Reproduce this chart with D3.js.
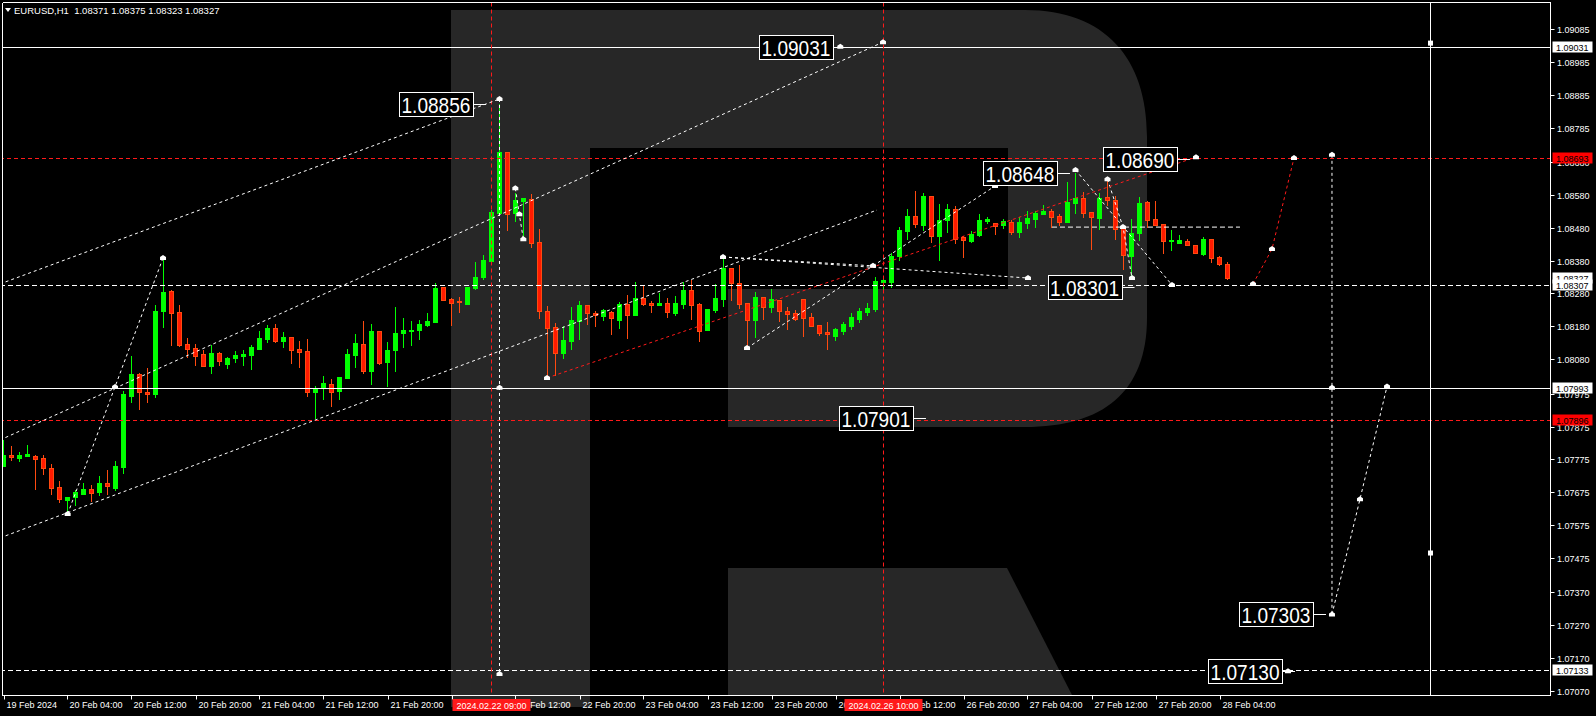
<!DOCTYPE html>
<html><head><meta charset="utf-8">
<script src="https://cdn.jsdelivr.net/npm/d3@7"></script>
<style>html,body{margin:0;padding:0;background:#000;overflow:hidden}</style>
</head><body>
<svg id="c" width="1596" height="716"></svg>
<script>
// ---------------- DATA ----------------
const header = "EURUSD,H1  1.08371 1.08375 1.08323 1.08327";
// EURUSD H1 candles, 19 Feb 20:00 .. 28 Feb 05:00 (bar index 0..153)
const opens = [1.07755,1.07788,1.07779,1.07786,1.07786,1.07778,1.07749,1.07690,1.07652,1.07661,1.07670,1.07685,1.07674,1.07702,1.07689,1.07752,1.07969,1.08034,1.07981,1.07975,
1.08228,1.08288,1.08224,1.08126,1.08114,1.08096,1.08060,1.08098,1.08066,1.08084,1.08090,1.08093,1.08112,1.08142,1.08175,1.08135,1.08148,1.08111,1.08105,1.07980,
1.07996,1.08005,1.07983,1.08023,1.08093,1.08126,1.08044,1.08166,1.08070,1.08108,1.08160,1.08167,1.08169,1.08184,1.08194,1.08300,1.08263,1.08256,1.08248,1.08298,
1.08330,1.08379,1.08525,1.08711,1.08524,1.08563,1.08568,1.08437,1.08227,1.08177,1.08097,1.08136,1.08196,1.08244,1.08220,1.08213,1.08223,1.08200,1.08248,1.08213,
1.08266,1.08251,1.08246,1.08250,1.08222,1.08249,1.08291,1.08248,1.08167,1.08230,1.08263,1.08358,1.08312,1.08251,1.08200,1.08269,1.08240,1.08260,1.08227,1.08221,
1.08263,1.08208,1.08184,1.08163,1.08152,1.08165,1.08179,1.08202,1.08224,1.08233,1.08315,1.08315,1.08394,1.08471,1.08516,1.08489,1.08577,1.08456,1.08504,1.08537,
1.08451,1.08441,1.08459,1.08502,1.08494,1.08489,1.08498,1.08468,1.08496,1.08507,1.08523,1.08531,1.08515,1.08496,1.08556,1.08570,1.08527,1.08511,1.08573,1.08564,
1.08481,1.08395,1.08464,1.08557,1.08506,1.08491,1.08441,1.08434,1.08440,1.08427,1.08402,1.08446,1.08391,1.08371];
const highs = [1.07834,1.07816,1.07796,1.07819,1.07789,1.07789,1.07761,1.07709,1.07662,1.07682,1.07702,1.07696,1.07724,1.07743,1.07770,1.07983,1.08090,1.08037,1.08054,1.08245,
1.08387,1.08291,1.08245,1.08144,1.08126,1.08108,1.08123,1.08103,1.08088,1.08105,1.08108,1.08123,1.08165,1.08184,1.08187,1.08163,1.08148,1.08135,1.08142,1.07999,
1.08029,1.08020,1.08026,1.08111,1.08157,1.08196,1.08187,1.08166,1.08132,1.08239,1.08205,1.08196,1.08199,1.08220,1.08311,1.08300,1.08266,1.08270,1.08299,1.08376,
1.08397,1.08534,1.08856,1.08711,1.08586,1.08571,1.08582,1.08476,1.08242,1.08190,1.08180,1.08239,1.08258,1.08244,1.08226,1.08234,1.08226,1.08255,1.08275,1.08315,
1.08303,1.08258,1.08282,1.08266,1.08272,1.08314,1.08321,1.08251,1.08232,1.08309,1.08392,1.08358,1.08367,1.08251,1.08285,1.08269,1.08293,1.08260,1.08239,1.08230,
1.08263,1.08221,1.08184,1.08193,1.08175,1.08193,1.08221,1.08237,1.08251,1.08331,1.08333,1.08402,1.08482,1.08536,1.08592,1.08586,1.08577,1.08552,1.08552,1.08546,
1.08456,1.08470,1.08522,1.08513,1.08496,1.08507,1.08504,1.08513,1.08531,1.08531,1.08548,1.08538,1.08522,1.08620,1.08648,1.08588,1.08527,1.08585,1.08627,1.08577,
1.08488,1.08507,1.08573,1.08560,1.08560,1.08491,1.08473,1.08458,1.08447,1.08427,1.08453,1.08446,1.08394,1.08375];
const lows = [1.07752,1.07773,1.07768,1.07784,1.07682,1.07728,1.07667,1.07643,1.07609,1.07636,1.07667,1.07646,1.07664,1.07667,1.07680,1.07732,1.07948,1.07928,1.07948,1.07963,
1.08176,1.08123,1.08118,1.08086,1.08062,1.08057,1.08036,1.08060,1.08051,1.08069,1.08060,1.08048,1.08112,1.08130,1.08130,1.08117,1.08068,1.08056,1.07966,1.07898,
1.07956,1.07935,1.07956,1.08023,1.08056,1.08035,1.08002,1.08063,1.07996,1.08044,1.08117,1.08123,1.08139,1.08179,1.08194,1.08258,1.08184,1.08223,1.08245,1.08291,
1.08324,1.08379,1.08525,1.08473,1.08498,1.08453,1.08419,1.08205,1.08022,1.08030,1.08082,1.08109,1.08139,1.08186,1.08179,1.08199,1.08155,1.08172,1.08142,1.08213,
1.08242,1.08221,1.08242,1.08206,1.08213,1.08233,1.08202,1.08133,1.08167,1.08223,1.08240,1.08260,1.08233,1.08113,1.08145,1.08202,1.08221,1.08194,1.08169,1.08197,
1.08149,1.08179,1.08151,1.08110,1.08137,1.08155,1.08169,1.08193,1.08213,1.08224,1.08291,1.08298,1.08380,1.08443,1.08480,1.08473,1.08435,1.08380,1.08465,1.08432,
1.08389,1.08435,1.08453,1.08492,1.08459,1.08477,1.08459,1.08449,1.08477,1.08480,1.08521,1.08480,1.08486,1.08496,1.08523,1.08511,1.08415,1.08475,1.08547,1.08445,
1.08354,1.08330,1.08440,1.08481,1.08486,1.08402,1.08412,1.08434,1.08427,1.08404,1.08397,1.08374,1.08365,1.08323];
const closes = [1.07789,1.07781,1.07789,1.07792,1.07777,1.07747,1.07689,1.07652,1.07662,1.07675,1.07685,1.07674,1.07702,1.07692,1.07755,1.07974,1.08035,1.07978,1.07975,1.08228,
1.08286,1.08222,1.08123,1.08111,1.08091,1.08059,1.08099,1.08075,1.08084,1.08093,1.08096,1.08117,1.08144,1.08175,1.08136,1.08148,1.08109,1.08103,1.07981,1.07992,
1.08008,1.07980,1.08026,1.08096,1.08130,1.08044,1.08166,1.08070,1.08108,1.08160,1.08169,1.08170,1.08188,1.08196,1.08297,1.08261,1.08252,1.08253,1.08299,1.08330,
1.08381,1.08528,1.08711,1.08523,1.08565,1.08571,1.08435,1.08226,1.08176,1.08097,1.08138,1.08199,1.08244,1.08220,1.08213,1.08230,1.08206,1.08248,1.08213,1.08266,
1.08249,1.08246,1.08251,1.08223,1.08251,1.08291,1.08246,1.08167,1.08232,1.08266,1.08358,1.08312,1.08249,1.08200,1.08269,1.08240,1.08263,1.08225,1.08219,1.08203,
1.08206,1.08182,1.08160,1.08157,1.08173,1.08187,1.08207,1.08227,1.08237,1.08318,1.08320,1.08394,1.08473,1.08516,1.08492,1.08577,1.08456,1.08504,1.08537,1.08447,
1.08442,1.08461,1.08504,1.08507,1.08486,1.08501,1.08468,1.08498,1.08510,1.08526,1.08532,1.08514,1.08496,1.08558,1.08570,1.08524,1.08511,1.08571,1.08563,1.08475,
1.08395,1.08464,1.08555,1.08501,1.08489,1.08438,1.08443,1.08444,1.08429,1.08404,1.08447,1.08389,1.08371,1.08327];

const timeTickIdx = [0,8,16,24,32,40,48,56,64,72,80,88,96,104,112,120,128,136,144,152];
const timeTickLabels = ["19 Feb 2024","20 Feb 04:00","20 Feb 12:00","20 Feb 20:00","21 Feb 04:00","21 Feb 12:00","21 Feb 20:00","22 Feb 04:00","22 Feb 12:00","22 Feb 20:00",
"23 Feb 04:00","23 Feb 12:00","23 Feb 20:00","26 Feb 04:00","26 Feb 12:00","26 Feb 20:00","27 Feb 04:00","27 Feb 12:00","27 Feb 20:00","28 Feb 04:00"];
const priceTicks = [1.09085,1.08985,1.08885,1.08785,1.08680,1.08580,1.08480,1.08380,1.08280,1.08180,1.08080,1.07975,1.07875,1.07775,1.07675,1.07575,1.07475,1.07370,1.07270,1.07170,1.07070];

// horizontal levels
const levelSolid = [1.09031, 1.07993];
const levelRed = [1.08693, 1.07896];
const levelDashed = [1.08307, 1.07133];
// vertical cursor lines (bar index) and their time labels
const vRedIdx = [61, 110];
const vRedLabels = ["2024.02.22 09:00", "2024.02.26 10:00"];
const vWhiteIdx = 178.3;
const vWhiteSquares = [1.09042, 1.07490];
// right-axis price tags
const tagPrices = [1.09031, 1.08693, 1.08327, 1.08307, 1.07993, 1.07896, 1.07133];
const tagRed = [false, true, false, false, false, true, false];

// analysis drawings: [bar index, price]
const channelUpper = [[-0.44,1.08309],[62,1.08872]];
const channelMiddle = [[-0.44,1.07834],[109.94,1.09045]];
const channelLower = [[-0.44,1.07536],[109.19,1.08534]];
const waveLeft = [[8.02,1.07609],[19.94,1.08388]];
const waveSpike = [[62,1.08872],[62,1.07122]];
const waveSmall = [[63.98,1.08600],[64.48,1.08521],[64.98,1.08445]];
const lineFrom90a = [[89.94,1.08391],[128.06,1.08327]];
const lineFrom90b = [[89.94,1.08391],[108.69,1.08364]];
const lineFrom93 = [[92.94,1.08114],[108.69,1.08364]];
const lineTo648 = [[108.69,1.08364],[123.94,1.08607]];
const lineA = [[134.0,1.08656],[146.06,1.08306]];
const lineB = [[138.0,1.08628],[139.94,1.08482],[141.06,1.08327]];
const lineFlat = [[131.06,1.08482],[154.56,1.08482]];
const redTrend = [[67.94,1.08023],[149.06,1.08695]];
const redForecast = [[156.19,1.08309],[158.56,1.08415],[161.31,1.08692]];
const forecastDrop = [[166.06,1.08702],[166.06,1.07303]];
const forecastRise = [[166.06,1.07303],[169.56,1.07654],[172.94,1.07997]];
const markers = [[8.02,1.07609],[13.94,1.07995],[19.94,1.08388],[62,1.08872],[62,1.07993],[62,1.07122],
[63.98,1.08600],[64.48,1.08521],[64.98,1.08445],[67.94,1.08023],[109.94,1.09045],[89.94,1.08391],[92.94,1.08114],
[108.69,1.08364],[123.94,1.08607],[128.06,1.08327],[134,1.08656],[138,1.08628],[139.94,1.08482],[141.06,1.08327],
[146.06,1.08306],[149.06,1.08695],[156.19,1.08309],[158.56,1.08415],[161.31,1.08692],[166.06,1.08702],[166.06,1.07993],
[166.06,1.07303],[169.56,1.07654],[172.94,1.07997],[160.56,1.07130],[104.6,1.09031]];
// boxed price labels
const boxTexts = ["1.08856","1.09031","1.08648","1.08690","1.08301","1.07901","1.07303","1.07130"];
const boxIdx = [54.06,99.06,127.06,142.06,135.13,109.06,159.06,155.19];
const boxPrice = [1.08856,1.09031,1.08648,1.08690,1.08301,1.07901,1.07303,1.07130];

// ---------------- DRAW ----------------
const W = 1596, H = 716;
const plotL = 2.5, plotR = 1550.5, plotT = 2.5, plotB = 695.5;
const x = d3.scaleLinear().domain([0, 152]).range([3.5, 1219.5]);
const y = d3.scaleLinear().domain([1.09085, 1.07070]).range([29, 691]);
const FONT = "'Liberation Sans', Arial, sans-serif";
const BULL = "#00ff00", BEAR_FILL = "#ff1a00", BEAR_LINE = "#ff4a10";

const svg = d3.select("#c");
svg.append("rect").attr("width", W).attr("height", H).attr("fill", "#000");

// background logo
const logo = svg.append("g").attr("fill", "#272727");
logo.append("path").attr("d",
  "M451,10 H1025 C1105,10 1147,58 1147,137 V318 C1147,392 1103,427 1025,427 H728 V289 H1008 V148 H590 V707 H451 Z");
logo.append("path").attr("d", "M728,568 H1007 L1072,695 H728 Z");

svg.append("defs").append("clipPath").attr("id", "plot")
  .append("rect").attr("x", plotL).attr("y", plotT).attr("width", plotR - plotL).attr("height", plotB - plotT);
const plot = svg.append("g").attr("clip-path", "url(#plot)");

// candles
const candles = opens.map((o, i) => ({i, o, h: highs[i], l: lows[i], c: closes[i]}));
const cg = plot.append("g").attr("shape-rendering", "crispEdges");
cg.selectAll("line.w").data(candles).join("line")
  .attr("x1", d => x(d.i)).attr("x2", d => x(d.i))
  .attr("y1", d => y(d.h)).attr("y2", d => y(d.l) + 0.5)
  .attr("stroke", d => d.c >= d.o ? BULL : BEAR_LINE).attr("stroke-width", 1);
cg.selectAll("rect.b").data(candles).join("rect")
  .attr("x", d => x(d.i) - 2).attr("width", 4)
  .attr("y", d => Math.round(y(Math.max(d.o, d.c))) + 0.5)
  .attr("height", d => Math.max(0.01, Math.round(Math.abs(y(d.o) - y(d.c)))))
  .attr("fill", d => d.c >= d.o ? BULL : BEAR_FILL)
  .attr("stroke", d => d.c >= d.o ? BULL : BEAR_LINE).attr("stroke-width", 1);

// level lines
const lv = plot.append("g");
levelSolid.forEach(p => lv.append("line").attr("x1", 0).attr("x2", plotR).attr("y1", Math.round(y(p)) + 0.5).attr("y2", Math.round(y(p)) + 0.5).attr("stroke", "#fff"));
levelRed.forEach(p => lv.append("line").attr("x1", 0).attr("x2", plotR).attr("y1", Math.round(y(p)) + 0.5).attr("y2", Math.round(y(p)) + 0.5).attr("stroke", "#ff1a1a").attr("stroke-dasharray", "4,3"));
levelDashed.forEach(p => lv.append("line").attr("x1", 0).attr("x2", plotR).attr("y1", Math.round(y(p)) + 0.5).attr("y2", Math.round(y(p)) + 0.5).attr("stroke", "#fff").attr("stroke-dasharray", "5,3"));
vRedIdx.forEach(i => lv.append("line").attr("x1", x(i)).attr("x2", x(i)).attr("y1", plotT).attr("y2", plotB).attr("stroke", "#ff1a1a").attr("stroke-dasharray", "4,3"));
lv.append("line").attr("x1", Math.round(x(vWhiteIdx)) + 0.5).attr("x2", Math.round(x(vWhiteIdx)) + 0.5).attr("y1", plotT).attr("y2", plotB).attr("stroke", "#fff");
vWhiteSquares.forEach(p => lv.append("rect").attr("x", Math.round(x(vWhiteIdx)) - 2).attr("y", y(p) - 2.5).attr("width", 5).attr("height", 5).attr("fill", "#fff"));

// drawings
const line = d3.line().x(d => x(d[0])).y(d => y(d[1]));
const dg = plot.append("g").attr("fill", "none");
[channelUpper, channelMiddle, channelLower, waveLeft, waveSpike, waveSmall, lineFrom90a, lineFrom90b,
 lineFrom93, lineTo648, lineA, lineB, forecastDrop, forecastRise]
  .forEach(pts => dg.append("path").attr("d", line(pts)).attr("stroke", "#fff").attr("stroke-dasharray", "3,3"));
dg.append("path").attr("d", line(lineFlat)).attr("stroke", "#fff").attr("stroke-dasharray", "5,3");
[redTrend, redForecast].forEach(pts => dg.append("path").attr("d", line(pts)).attr("stroke", "#ff1a1a").attr("stroke-dasharray", "3,3"));
const mg = plot.append("g").attr("fill", "#fff");
markers.forEach(m => {
  const cx = x(m[0]), cy = y(m[1]);
  mg.append("path").attr("d", `M${cx-3},${cy+2} V${cy-1} L${cx},${cy-3} L${cx+3},${cy-1} V${cy+2} Z`);
});

// boxed labels
const bg = plot.append("g");
boxTexts.forEach((t, k) => {
  const cx = x(boxIdx[k]), cy = Math.round(y(boxPrice[k]));
  bg.append("line").attr("x1", cx + 37).attr("x2", cx + 50).attr("y1", cy + 0.5).attr("y2", cy + 0.5).attr("stroke", "#fff");
  bg.append("rect").attr("x", Math.round(cx - 37) + 0.5).attr("y", cy - 11.5).attr("width", 74).attr("height", 24)
    .attr("fill", "#000").attr("stroke", "#fff");
  bg.append("text").attr("x", cx).attr("y", cy + 8.5).attr("text-anchor", "middle")
    .attr("font-family", FONT).attr("font-size", 22).attr("fill", "#fff")
    .attr("textLength", 69).attr("lengthAdjust", "spacingAndGlyphs").text(t);
});

// frame
const fr = svg.append("g").attr("stroke", "#fff").attr("shape-rendering", "crispEdges");
fr.append("line").attr("x1", plotL).attr("x2", plotR).attr("y1", plotT).attr("y2", plotT);
fr.append("line").attr("x1", plotL).attr("x2", plotL).attr("y1", plotT).attr("y2", plotB);
fr.append("line").attr("x1", plotR).attr("x2", plotR).attr("y1", plotT).attr("y2", plotB);
fr.append("line").attr("x1", plotL).attr("x2", plotR).attr("y1", plotB).attr("y2", plotB);

// price axis
const pa = svg.append("g").attr("font-family", FONT).attr("font-size", 9).attr("fill", "#fff");
priceTicks.forEach(p => {
  const yy = Math.round(y(p)) + 0.5;
  pa.append("line").attr("x1", plotR).attr("x2", plotR + 4).attr("y1", yy).attr("y2", yy).attr("stroke", "#fff");
  pa.append("text").attr("x", 1557).attr("y", yy + 3.3).text(p.toFixed(5));
});
tagPrices.forEach((p, k) => {
  const yy = Math.round(y(p));
  pa.append("rect").attr("x", 1552.5).attr("y", yy - 5.5).attr("width", 40).attr("height", 11)
    .attr("fill", tagRed[k] ? "#ff0000" : "#fff");
  pa.append("text").attr("x", 1556).attr("y", yy + 3.5).attr("fill", "#000").text(p.toFixed(5));
});

// time axis
const ta = svg.append("g").attr("font-family", FONT).attr("font-size", 9).attr("fill", "#fff");
timeTickIdx.forEach((i, k) => {
  const xx = Math.round(x(i)) + 0.5;
  ta.append("line").attr("x1", xx).attr("x2", xx).attr("y1", plotB).attr("y2", plotB + 4).attr("stroke", "#fff");
  ta.append("text").attr("x", xx + 2).attr("y", 708).text(timeTickLabels[k]);
});
vRedIdx.forEach((i, k) => {
  const xx = x(i);
  ta.append("rect").attr("x", xx - 39).attr("y", 699).attr("width", 78).attr("height", 12).attr("fill", "#ff1a1a");
  ta.append("text").attr("x", xx).attr("y", 708.5).attr("text-anchor", "middle").text(vRedLabels[k]);
});

// header
svg.append("path").attr("d", "M5,8 H11 L8,12 Z").attr("fill", "#fff");
svg.append("text").attr("x", 14).attr("y", 14).attr("font-family", FONT).attr("font-size", 9.5)
  .attr("fill", "#fff").attr("xml:space", "preserve").style("white-space", "pre").text(header);
</script>
</body></html>
